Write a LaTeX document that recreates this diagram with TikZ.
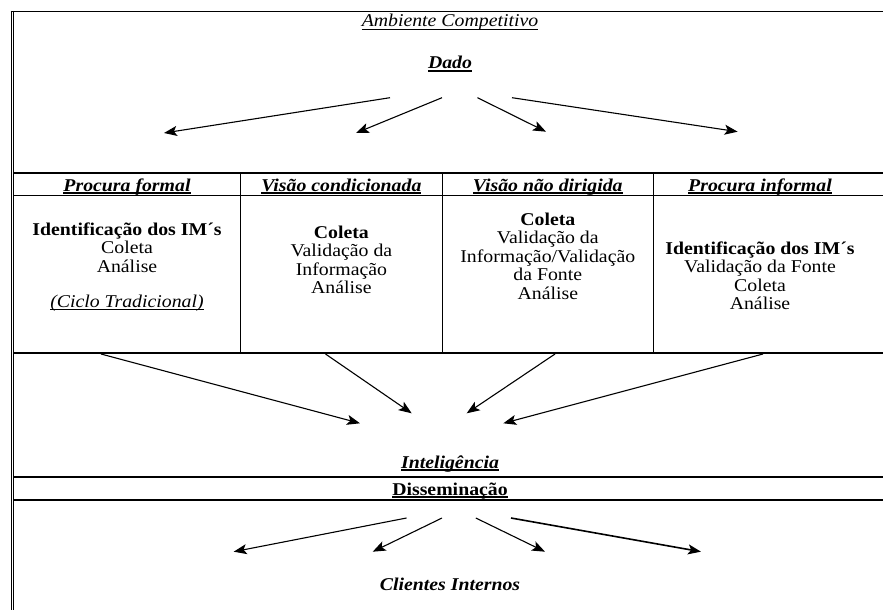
\documentclass[tikz,border=0pt]{standalone}
\usepackage{fontspec}
\setmainfont{Liberation Serif}[FakeStretch=1.1]
\usetikzlibrary{arrows.meta}
\newcommand\myul[2][1.2pt]{\setbox0\hbox{#2}\rlap{\rule[-2.6pt]{\wd0}{#1}}\box0}
\tikzset{
  txt/.style={inner sep=0pt, anchor=base, font=\fontsize{18}{18.5}\selectfont},
  rulethin/.style={line width=1.1pt},
  rulethick/.style={line width=1.8pt},
  arr/.style={line width=1.1pt, -{Stealth[length=13pt,width=10pt,inset=3pt]}},
  arrthick/.style={line width=1.6pt, -{Stealth[length=13pt,width=10pt,inset=3pt]}}
}
\begin{document}
\begin{tikzpicture}[x=1pt,y=-1pt]
\useasboundingbox (0,0) rectangle (883,610);
% borders
\draw[line width=0.9pt] (11,11) -- (11,610);
\draw[line width=0.9pt] (13.8,11) -- (13.8,610);
\draw[rulethick] (10.5,11.5) -- (883,11.5);
\foreach \yy in {173,195.5,353,477,500}{\draw[rulethin] (13.8,\yy) -- (883,\yy);}
\foreach \xx in {240.5,442.3,653.3}{\draw[line width=1pt] (\xx,173) -- (\xx,353);}
% titles
\node[txt] (amb) at (450,27) {\myul[0.9pt]{\itshape Ambiente Competitivo}};
\node[txt] (dado) at (450,69) {\myul[1.6pt]{\bfseries\itshape Dado}};
\node[txt] (intel) at (450,468) {\myul[1.6pt]{\bfseries\itshape Inteligência}};
\node[txt] (diss) at (450,495) {\myul[1.6pt]{\bfseries Disseminação}};
\node[txt] (cli) at (450,590) {\bfseries\itshape Clientes Internos};
% headers
\node[txt] (h1) at (127,191) {\myul[1.6pt]{\bfseries\itshape Procura formal}};
\node[txt] (h2) at (341.4,191) {\myul[1.6pt]{\bfseries\itshape Visão condicionada}};
\node[txt] (h3) at (547.8,191) {\myul[1.6pt]{\bfseries\itshape Visão não dirigida}};
\node[txt] (h4) at (760,191) {\myul[1.6pt]{\bfseries\itshape Procura informal}};
% cell 1
\node[txt] (c1a) at (127,235) {\bfseries Identificação dos IM´s};
\node[txt] (c1b) at (127,253.5) {Coleta};
\node[txt] (c1c) at (127,272) {Análise};
\node[txt] (c1d) at (127,307) {\myul[0.9pt]{\itshape (Ciclo Tradicional)}};
% cell 2
\node[txt] (c2a) at (341.4,238) {\bfseries Coleta};
\node[txt] (c2b) at (341.4,256.5) {Validação da};
\node[txt] (c2c) at (341.4,275) {Informação};
\node[txt] (c2d) at (341.4,293.5) {Análise};
% cell 3
\node[txt] (c3a) at (547.8,225) {\bfseries Coleta};
\node[txt] (c3b) at (547.8,243.5) {Validação da};
\node[txt] (c3c) at (547.8,262) {Informação/Validação};
\node[txt] (c3d) at (547.8,280.5) {da Fonte};
\node[txt] (c3e) at (547.8,299) {Análise};
% cell 4
\node[txt] (c4a) at (760,254) {\bfseries Identificação dos IM´s};
\node[txt] (c4b) at (760,272.5) {Validação da Fonte};
\node[txt] (c4c) at (760,291) {Coleta};
\node[txt] (c4d) at (760,309.5) {Análise};
% arrows from Dado
\coordinate (d1s) at (390,97.7);  \coordinate (d1e) at (164,133);
\coordinate (d2s) at (442,97.7);  \coordinate (d2e) at (356,133);
\coordinate (d3s) at (477.5,97.7);\coordinate (d3e) at (546,131.7);
\coordinate (d4s) at (512,97.7);  \coordinate (d4e) at (737.6,131.7);
\draw[arr] (d1s) -- (d1e);
\draw[arr] (d2s) -- (d2e);
\draw[arr] (d3s) -- (d3e);
\draw[arr] (d4s) -- (d4e);
% arrows to Inteligencia
\coordinate (i1s) at (101,354);   \coordinate (i1e) at (360,423.3);
\coordinate (i2s) at (325.5,354); \coordinate (i2e) at (411.7,413.3);
\coordinate (i3s) at (555,354);   \coordinate (i3e) at (466.7,413.3);
\coordinate (i4s) at (763,354);   \coordinate (i4e) at (503.3,423.3);
\draw[arr] (i1s) -- (i1e);
\draw[arr] (i2s) -- (i2e);
\draw[arr] (i3s) -- (i3e);
\draw[arr] (i4s) -- (i4e);
% arrows from Disseminacao
\coordinate (s1s) at (406.5,518); \coordinate (s1e) at (233.7,551.7);
\coordinate (s2s) at (442,518);   \coordinate (s2e) at (372.7,551.7);
\coordinate (s3s) at (475.8,518); \coordinate (s3e) at (545,551.7);
\coordinate (s4s) at (511,518);   \coordinate (s4e) at (701,551.7);
\draw[arr] (s1s) -- (s1e);
\draw[arr] (s2s) -- (s2e);
\draw[arr] (s3s) -- (s3e);
\draw[arrthick] (s4s) -- (s4e);
\end{tikzpicture}
\end{document}
